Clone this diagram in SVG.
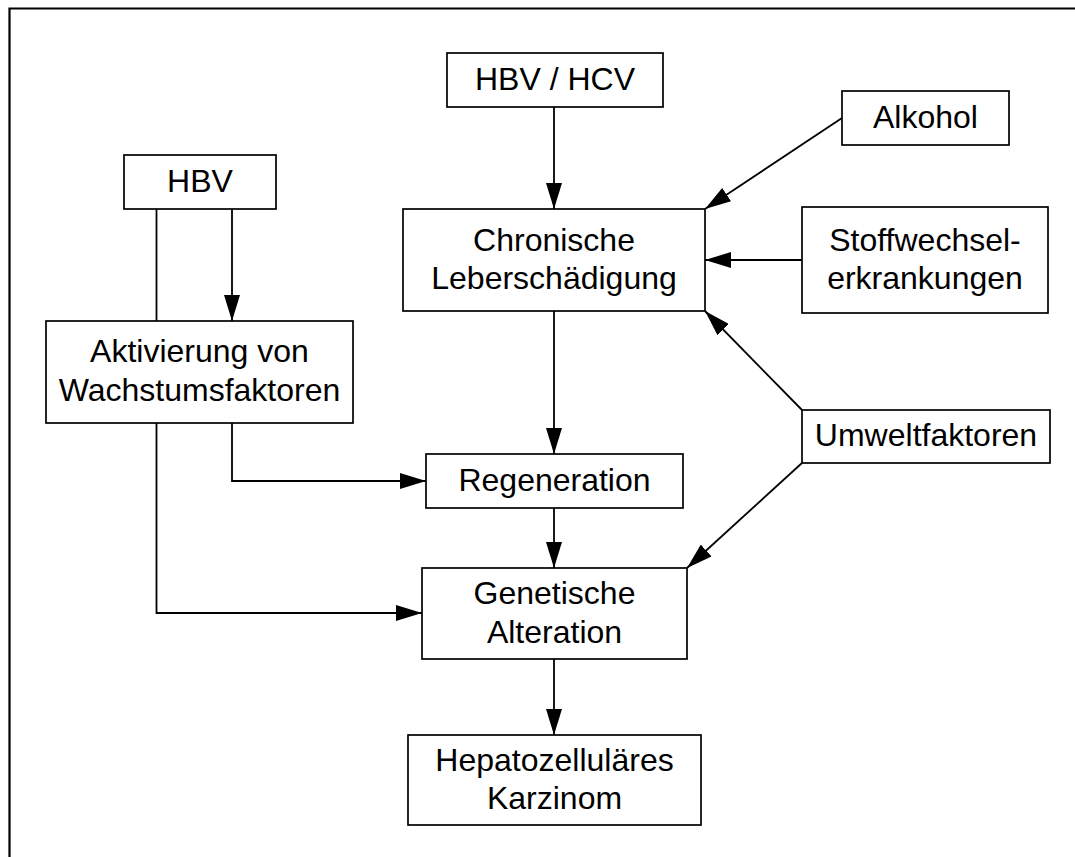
<svg xmlns="http://www.w3.org/2000/svg" width="1075" height="857" viewBox="0 0 1075 857">
<defs>
<style>
.box{fill:#fff;stroke:#000;stroke-width:1.7}
.t{font-family:"Liberation Sans",Arial,sans-serif;font-size:32px;fill:#000;text-anchor:middle}
.c{fill:none;stroke:#000;stroke-width:1.8}
.frame{fill:none;stroke:#000;stroke-width:2.2}
</style>
<marker id="ah" markerUnits="userSpaceOnUse" markerWidth="26" markerHeight="16" refX="26" refY="8" orient="auto">
<path d="M0,0 L26,8 L0,16 Z" fill="#000"/>
</marker>
</defs>
<rect width="1075" height="857" fill="#fff"/>
<path class="frame" d="M9.5,857 L9.5,8.5 L1075,8.5"/>
<g id="connectors">
<line class="c" x1="554" y1="107" x2="554" y2="209" marker-end="url(#ah)"/>
<line class="c" x1="842" y1="118" x2="705" y2="209" marker-end="url(#ah)"/>
<line class="c" x1="802" y1="260" x2="705" y2="260" marker-end="url(#ah)"/>
<line class="c" x1="802" y1="410" x2="705" y2="311" marker-end="url(#ah)"/>
<line class="c" x1="802" y1="463" x2="687" y2="568" marker-end="url(#ah)"/>
<line class="c" x1="554" y1="311" x2="554" y2="454" marker-end="url(#ah)"/>
<line class="c" x1="554" y1="508" x2="554" y2="568" marker-end="url(#ah)"/>
<line class="c" x1="554" y1="659" x2="554" y2="735" marker-end="url(#ah)"/>
<line class="c" x1="232" y1="209" x2="232" y2="321" marker-end="url(#ah)"/>
<line class="c" x1="156.5" y1="209" x2="156.5" y2="321"/>
<polyline class="c" points="232,423 232,481 426,481" marker-end="url(#ah)"/>
<polyline class="c" points="156.5,423 156.5,613 422,613" marker-end="url(#ah)"/>
</g>
<g id="hbv"><rect class="box" x="124" y="155" width="152" height="54"/><text class="t" x="200" y="192">HBV</text></g>
<g id="hbvhcv"><rect class="box" x="447" y="53" width="216" height="54"/><text class="t" x="555" y="90">HBV / HCV</text></g>
<g id="alkohol"><rect class="box" x="842" y="91" width="167" height="54"/><text class="t" x="925.5" y="128">Alkohol</text></g>
<g id="chronisch"><rect class="box" x="403" y="209" width="302" height="102"/><text class="t" x="554" y="251">Chronische</text><text class="t" x="554" y="289">Leberschädigung</text></g>
<g id="stoffwechsel"><rect class="box" x="802" y="207" width="246" height="106"/><text class="t" x="925" y="251">Stoffwechsel-</text><text class="t" x="925" y="289">erkrankungen</text></g>
<g id="umwelt"><rect class="box" x="802" y="410" width="248" height="53"/><text class="t" x="926" y="446">Umweltfaktoren</text></g>
<g id="aktivierung"><rect class="box" x="46" y="321" width="307" height="102"/><text class="t" x="199.5" y="362">Aktivierung von</text><text class="t" x="199.5" y="401">Wachstumsfaktoren</text></g>
<g id="regeneration"><rect class="box" x="426" y="454" width="257" height="54"/><text class="t" x="554.5" y="491">Regeneration</text></g>
<g id="genetisch"><rect class="box" x="422" y="568" width="265" height="91"/><text class="t" x="554.5" y="604">Genetische</text><text class="t" x="554.5" y="643">Alteration</text></g>
<g id="hcc"><rect class="box" x="408" y="735" width="293" height="90"/><text class="t" x="554.5" y="771">Hepatozelluläres</text><text class="t" x="554.5" y="809">Karzinom</text></g>
</svg>
